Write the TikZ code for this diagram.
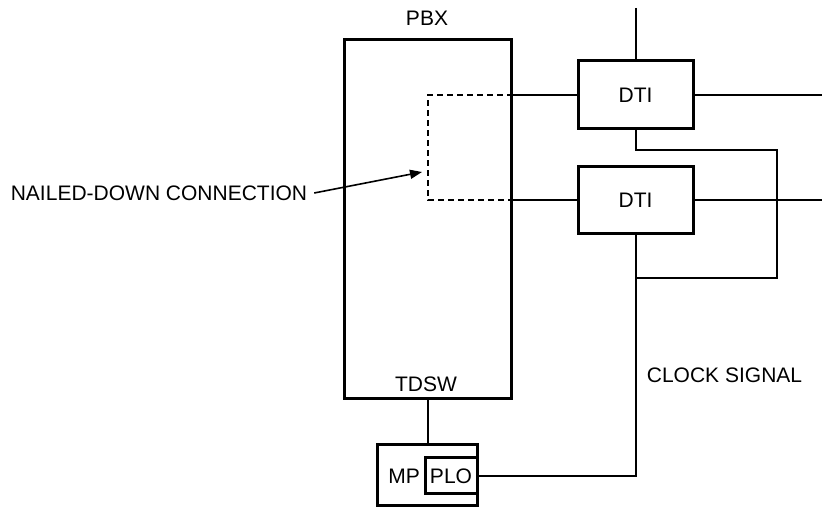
\documentclass[tikz,border=0pt]{standalone}
\usepackage{fontspec}
\setmainfont{Liberation Sans}
\usetikzlibrary{arrows.meta, positioning}

\begin{document}
\begin{tikzpicture}[x=5pt, y=5pt,
  font=\fontsize{10.5}{12.6}\selectfont,
  box/.style={draw, line width=1.5pt, inner sep=0pt},
  wire/.style={line width=1pt},
  nailed/.style={line width=1pt, dash pattern=on 3pt off 2pt}]
\useasboundingbox (0,0) rectangle (82.2,50.7);
\node[box, minimum width=83.5pt, minimum height=179.5pt] (pbx) at (42.75,28.75) {};
\node (pbxlabel) at (42.7,48.9) {PBX};
\node (tdsw) at (42.6,12.3) {TDSW};
\node[box, minimum width=57.5pt, minimum height=34pt] (dtia) at (63.55,41.2) {DTI};
\node[box, minimum width=57.5pt, minimum height=33.5pt] (dtib) at (63.55,30.65) {DTI};
\node[box, minimum width=50pt, minimum height=30.5pt] (mp) at (42.7,3.15) {};
\node (mplabel) at (40.4,3.1) {MP};
\node[box, minimum width=26pt, minimum height=18pt] (plo) at (45.1,3.1) {PLO};
\node (nailed) at (15.9,31.4) {NAILED-DOWN CONNECTION};
\node (clocklabel) at (72.45,13.2) {CLOCK SIGNAL};
\coordinate (topend) at (63.55,49.9);
\coordinate (rightedge) at (82.2,0);
\coordinate (nailx) at (42.8,0);
\coordinate (loopx) at (77.7,0);
\coordinate (clockjoin) at (63.55,22.9);
\coordinate (nailtip) at (42.2,33.5);
% lines to the DTIs
\draw[wire] (topend) -- (dtia.north);
\draw[wire] (dtia.west -| pbx.east) -- (dtia.west);
\draw[wire] (dtib.west -| pbx.east) -- (dtib.west);
\draw[wire] (dtia.east) -- (dtia.east -| rightedge);
\draw[wire] (dtib.east) -- (dtib.east -| rightedge);
\draw[nailed] (dtia.west -| pbx.east) -| (nailx |- dtib.west) -- (dtib.west -| pbx.east);
\draw[line width=0.8pt, -{Triangle[length=6pt, width=4.5pt]}] (nailed.east) -- (nailtip);
% clock
\draw[wire] (dtia.south) -- ++(0,-2) -| (loopx |- clockjoin) -- (clockjoin);
\draw[wire] (dtib.south) -- (dtib.south |- plo.east) -- (plo.east);
\draw[wire] (pbx.south) -- (pbx.south |- mp.north);
\end{tikzpicture}
\end{document}
